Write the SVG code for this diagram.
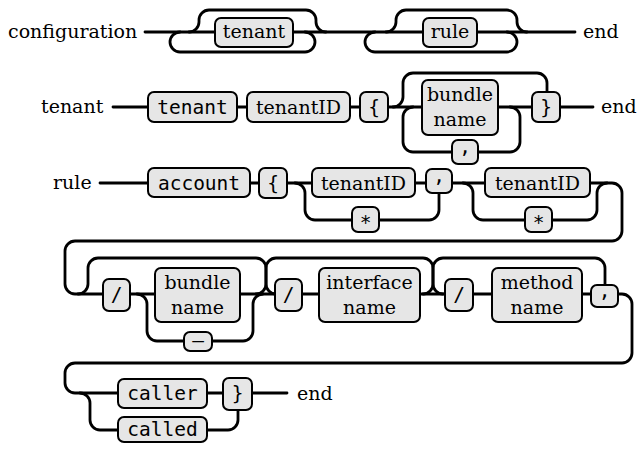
<svg xmlns="http://www.w3.org/2000/svg" width="639" height="449" viewBox="0 0 639 449">
<style>
.rail{fill:none;stroke:#000;stroke-width:2.8;stroke-linecap:round;stroke-linejoin:round}
.box{fill:#e6e6e6;stroke:#000;stroke-width:2}
.serif{font-family:"DejaVu Serif",serif;font-size:19px;fill:#000}
.mono{font-family:"DejaVu Sans Mono",monospace;font-size:19.5px;fill:#000}
.c{text-anchor:middle}
</style>
<rect width="639" height="449" fill="#fff"/>
<g id="connectors">
<path class="rail" d="M145,32 H575"/>
<path class="rail" d="M180,32 A10,10 0 0 0 170,42 A10,10 0 0 0 180,52 H305 A10,10 0 0 0 315,42 A10,10 0 0 0 305,32"/>
<path class="rail" d="M189,32 A10,10 0 0 0 199,22 V20 A10,10 0 0 1 209,10 H306 A10,10 0 0 1 316,20 V22 A10,10 0 0 0 326,32"/>
<path class="rail" d="M375,32 A10,10 0 0 0 365,42 A10,10 0 0 0 375,52 H507 A10,10 0 0 0 517,42 A10,10 0 0 0 507,32"/>
<path class="rail" d="M386,32 A10,10 0 0 0 396,22 V20 A10,10 0 0 1 406,10 H507 A10,10 0 0 1 517,20 V22 A10,10 0 0 0 527,32"/>
<path class="rail" d="M113,107 H593"/>
<path class="rail" d="M393,107 A10,10 0 0 0 403,97 V83 A10,10 0 0 1 413,73 H537 A10,10 0 0 1 547,83 V107"/>
<path class="rail" d="M413,107 A10,10 0 0 0 403,117 V142 A10,10 0 0 0 413,152 H510 A10,10 0 0 0 520,142 V117 A10,10 0 0 0 510,107"/>
<path class="rail" d="M100,183 H612 A10,10 0 0 1 622,193 V231 A10,10 0 0 1 612,241 H75 A10,10 0 0 0 65,251 V284 A10,10 0 0 0 75,294 H622 A10,10 0 0 1 632,304 V353 A10,10 0 0 1 622,363 H75 A10,10 0 0 0 65,373 V383 A10,10 0 0 0 75,393 H287"/>
<path class="rail" d="M295,183 A10,10 0 0 1 305,193 V210 A10,10 0 0 0 315,220 H429 A10,10 0 0 0 439,210 V183"/>
<path class="rail" d="M463,183 A10,10 0 0 1 473,193 V210 A10,10 0 0 0 483,220 H587 A10,10 0 0 0 597,210 V193 A10,10 0 0 1 607,183"/>
<path class="rail" d="M78,294 A10,10 0 0 0 88,284 V268 A10,10 0 0 1 98,258 H256 A10,10 0 0 1 266,268 V284 A10,10 0 0 0 276,294"/>
<path class="rail" d="M256,294 A10,10 0 0 0 266,284 V268 A10,10 0 0 1 276,258 H423 A10,10 0 0 1 433,268 V284 A10,10 0 0 0 443,294"/>
<path class="rail" d="M423,294 A10,10 0 0 0 433,284 V268 A10,10 0 0 1 443,258 H595 A10,10 0 0 1 605,268 V294"/>
<path class="rail" d="M137,294 A10,10 0 0 1 147,304 V331 A10,10 0 0 0 157,341 H243 A10,10 0 0 0 253,331 V304 A10,10 0 0 1 263,294"/>
<path class="rail" d="M80,393 A10,10 0 0 1 90,403 V420 A10,10 0 0 0 100,430 H228 A10,10 0 0 0 238,420 V393"/>
</g>
<g id="labels">
<text class="serif" x="8" y="38">configuration</text>
<text class="serif" x="583" y="38">end</text>
<text class="serif" x="41" y="113">tenant</text>
<text class="serif" x="601" y="113">end</text>
<text class="serif" x="53" y="189">rule</text>
<text class="serif" x="297" y="400">end</text>
</g>
<g id="n-tenant-ref"><rect class="box" x="215" y="18" width="78" height="29" rx="6"/><text class="serif c" x="254" y="38">tenant</text></g>
<g id="n-rule-ref"><rect class="box" x="423" y="18" width="54" height="29" rx="6"/><text class="serif c" x="450" y="38">rule</text></g>
<g id="n-tenant-kw"><rect class="box" x="148" y="92" width="89" height="30" rx="6"/><text class="mono c" x="192.5" y="113.5">tenant</text></g>
<g id="n-tenantID-1"><rect class="box" x="247" y="92" width="103" height="30" rx="6"/><text class="serif c" x="298.5" y="114">tenantID</text></g>
<g id="n-lbrace-1"><rect class="box" x="360" y="92" width="28" height="30" rx="6"/><text class="mono c" x="374" y="113.5">{</text></g>
<g id="n-bundle-1"><rect class="box" x="422" y="80" width="76" height="55" rx="6"/><text class="serif c" x="460" y="101">bundle</text><text class="serif c" x="460" y="126">name</text></g>
<g id="n-comma-1"><rect class="box" x="452" y="140" width="26" height="24" rx="6"/><text class="mono c" x="465" y="153">,</text></g>
<g id="n-rbrace-1"><rect class="box" x="532" y="92" width="28" height="30" rx="6"/><text class="mono c" x="546" y="113.5">}</text></g>
<g id="n-account"><rect class="box" x="148" y="168" width="102" height="29" rx="6"/><text class="mono c" x="199" y="189.5">account</text></g>
<g id="n-lbrace-2"><rect class="box" x="259" y="168" width="28" height="30" rx="6"/><text class="mono c" x="273" y="189.5">{</text></g>
<g id="n-tenantID-2"><rect class="box" x="312" y="168" width="103" height="29" rx="6"/><text class="serif c" x="363.5" y="190">tenantID</text></g>
<g id="n-star-1"><rect class="box" x="352" y="207" width="27" height="25" rx="6"/><text class="mono c" x="365.5" y="229">*</text></g>
<g id="n-comma-2"><rect class="box" x="426" y="169" width="26" height="24" rx="6"/><text class="mono c" x="439" y="182">,</text></g>
<g id="n-tenantID-3"><rect class="box" x="485" y="168" width="105" height="29" rx="6"/><text class="serif c" x="537.5" y="190">tenantID</text></g>
<g id="n-star-2"><rect class="box" x="525" y="207" width="27" height="25" rx="6"/><text class="mono c" x="538.5" y="229">*</text></g>
<g id="n-slash-1"><rect class="box" x="103" y="279" width="27" height="32" rx="6"/><text class="mono c" x="116.5" y="301">/</text></g>
<g id="n-bundle-2"><rect class="box" x="155" y="268" width="85" height="54" rx="6"/><text class="serif c" x="197.5" y="289">bundle</text><text class="serif c" x="197.5" y="314">name</text></g>
<g id="n-dash"><rect class="box" x="184" y="332" width="28" height="19" rx="6"/><text class="mono c" x="198" y="347">–</text></g>
<g id="n-slash-2"><rect class="box" x="275" y="279" width="27" height="32" rx="6"/><text class="mono c" x="288.5" y="301">/</text></g>
<g id="n-interface"><rect class="box" x="319" y="268" width="101" height="54" rx="6"/><text class="serif c" x="369.5" y="289">interface</text><text class="serif c" x="369.5" y="314">name</text></g>
<g id="n-slash-3"><rect class="box" x="445" y="279" width="28" height="32" rx="6"/><text class="mono c" x="459" y="301">/</text></g>
<g id="n-method"><rect class="box" x="492" y="268" width="90" height="54" rx="6"/><text class="serif c" x="537" y="289">method</text><text class="serif c" x="537" y="314">name</text></g>
<g id="n-comma-3"><rect class="box" x="591" y="285" width="27" height="22" rx="6"/><text class="mono c" x="604.5" y="297">,</text></g>
<g id="n-caller"><rect class="box" x="118" y="379" width="89" height="29" rx="6"/><text class="mono c" x="162.5" y="399.5">caller</text></g>
<g id="n-rbrace-2"><rect class="box" x="223" y="378" width="29" height="32" rx="6"/><text class="mono c" x="237.5" y="399.5">}</text></g>
<g id="n-called"><rect class="box" x="118" y="417" width="89" height="25" rx="6"/><text class="mono c" x="162.5" y="436">called</text></g>
</svg>
